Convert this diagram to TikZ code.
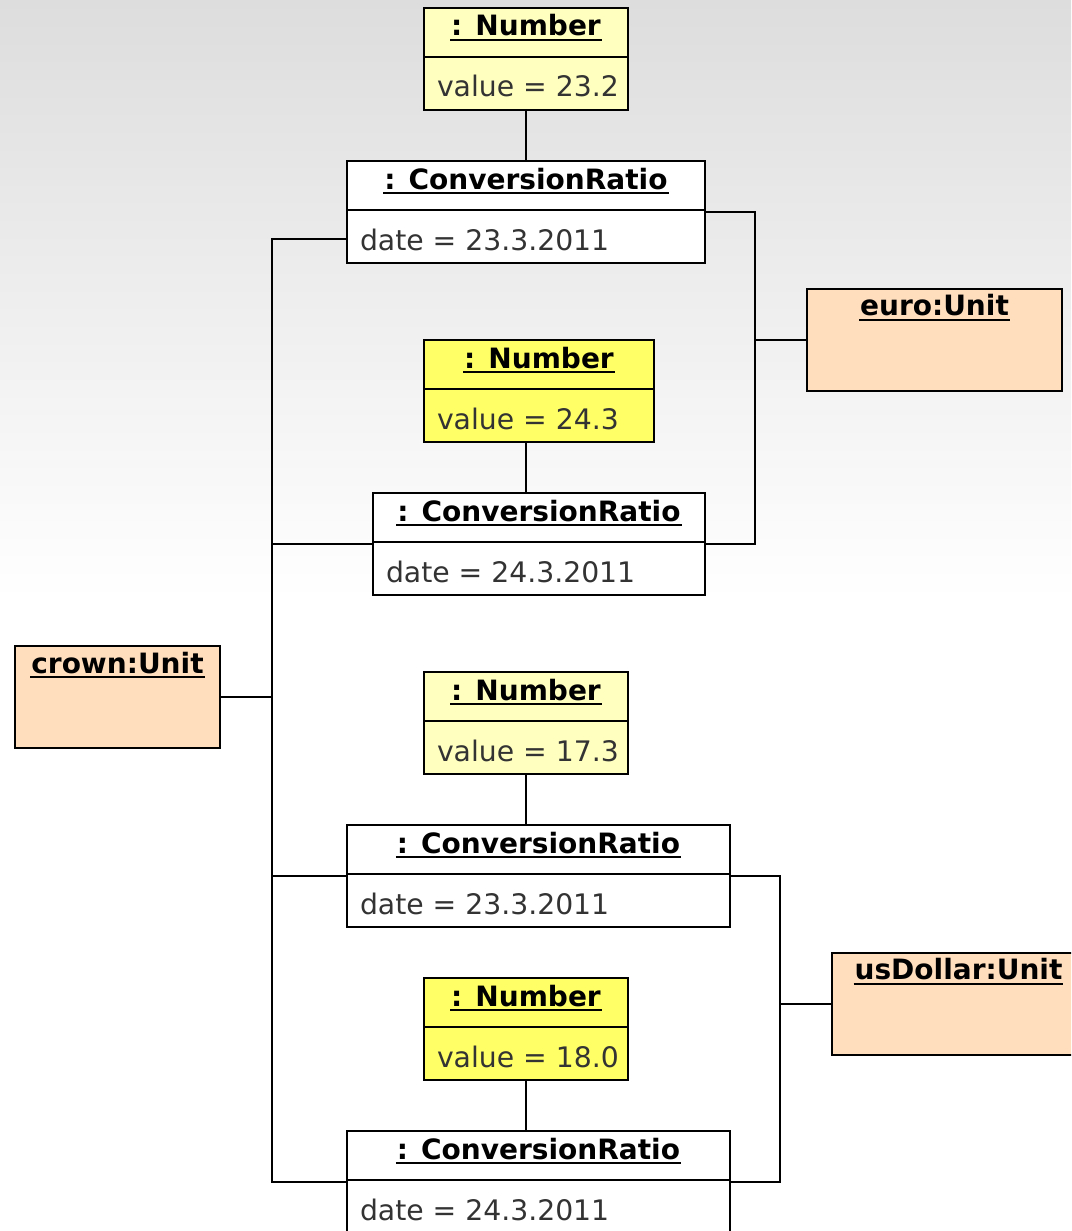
\documentclass[tikz,border=0pt]{standalone}
\usepackage{fontspec}
\setmainfont{DejaVu Sans}

\definecolor{bgtop}{RGB}{221,221,221}
\definecolor{numpale}{RGB}{255,255,192}
\definecolor{numbright}{RGB}{255,255,102}
\definecolor{unitfill}{RGB}{255,222,190}

\tikzset{every picture/.style={line width=1.5pt}}
\tikzset{
  obj/.style={draw, minimum height=76.5pt, inner sep=0pt},
  ttl/.style={font=\fontsize{21}{25}\selectfont\bfseries, inner sep=0pt, text=black},
  att/.style={font=\fontsize{21.2}{25}\selectfont, inner sep=0pt, text=black!80},
}

% object box: name, fill, centre x, centre y, width, title, attribute
\newcommand{\objbox}[7]{%
  \node[obj, fill=#2, minimum width=#5*0.75pt] (#1) at (#3,#4) {};
  \draw ([yshift=-1.5pt]#1.west) -- ([yshift=-1.5pt]#1.east);
  \node[ttl, anchor=base] (#1-t) at (#3,#4-23) {#6};
  \draw ([yshift=3pt]#1-t.base west) -- ([yshift=3pt]#1-t.base east);
  \node[att, anchor=base west] (#1-a) at (#3-#5/2+12,#4+38) {#7};
}
% unit box: name, centre x, centre y, width, title
\newcommand{\unitbox}[5]{%
  \node[obj, fill=unitfill, minimum width=#4*0.75pt] (#1) at (#2,#3) {};
  \node[ttl, anchor=base] (#1-t) at (#2,#3-24) {#5};
  \draw ([yshift=3pt]#1-t.base west) -- ([yshift=3pt]#1-t.base east);
}

\begin{document}
\begin{tikzpicture}[x=0.75pt,y=0.75pt,yscale=-1,xscale=1]
\useasboundingbox (0,0) rectangle (1071,1231);
\clip (0,0) rectangle (1071,1231);
%Background
\shade[top color=bgtop, bottom color=white] (0,0) rectangle (1071,600);

%Shape: Number / ConversionRatio pairs
\objbox{num1}{numpale}{526}{59}{204}{: Number}{value = 23.2}
\objbox{cr1}{white}{526}{212}{358}{: ConversionRatio}{date = 23.3.2011}
\objbox{num2}{numbright}{539}{391}{230}{: Number}{value = 24.3}
\objbox{cr2}{white}{539}{544}{332}{: ConversionRatio}{date = 24.3.2011}
\objbox{num3}{numpale}{526}{723}{204}{: Number}{value = 17.3}
\objbox{cr3}{white}{538.5}{876}{383}{: ConversionRatio}{date = 23.3.2011}
\objbox{num4}{numbright}{526}{1029}{204}{: Number}{value = 18.0}
\objbox{cr4}{white}{538.5}{1182}{383}{: ConversionRatio}{date = 24.3.2011}

%Shape: Units
\unitbox{euro}{934.5}{339.5}{255}{euro:Unit}
\unitbox{crown}{117.5}{697}{205}{crown:Unit}
\unitbox{usd}{958.5}{1003.5}{253}{usDollar:Unit}

%Straight Lines: values
\draw (num1.south) -- (cr1.north);
\draw (num2.south -| num3.south) -- (cr2.north -| num3.south);
\draw (num3.south) -- (num3.south |- cr3.north);
\draw (num4.south) -- (num4.south |- cr4.north);

%Straight Lines: crown
\draw (crown.east) -- ++(51,0) coordinate (bus);
\draw (bus) |- (cr1.west |- cr1-a);
\draw (bus) |- (cr2.west);
\draw (bus) |- (cr3.west);
\draw (bus) |- (cr4.west);

%Straight Lines: euro
\draw (euro.west) -- ++(-51,0) coordinate (ebus);
\draw (ebus) |- (cr1.east);
\draw (ebus) |- (cr2.east);

%Straight Lines: usDollar
\draw (usd.west) -- ++(-51,0) coordinate (ubus);
\draw (ubus) |- (cr3.east);
\draw (ubus) |- (cr4.east);
\end{tikzpicture}
\end{document}
